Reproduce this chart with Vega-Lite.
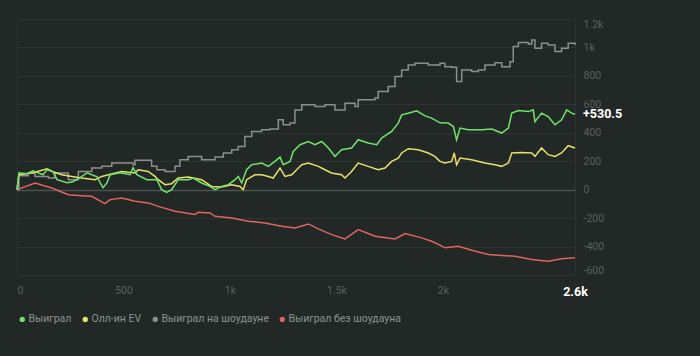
{
  "$schema": "https://vega.github.io/schema/vega-lite/v6.json",
  "width": 558,
  "height": 256,
  "autosize": {"type": "none"},
  "padding": {"left": 17, "top": 19, "right": 125, "bottom": 81},
  "background": "#222826",
  "config": {"view": {"stroke": "#2c3331"}, "font": "Roboto"},
  "datasets": {
    "red": [{"h":0,"v":0},{"h":85,"v":47},{"h":163,"v":12},{"h":241,"v":-35},{"h":304,"v":-42},{"h":351,"v":-47},{"h":413,"v":-98},{"h":437,"v":-70},{"h":492,"v":-58},{"h":554,"v":-82},{"h":616,"v":-93},{"h":671,"v":-121},{"h":742,"v":-152},{"h":836,"v":-175},{"h":850,"v":-159},{"h":906,"v":-164},{"h":930,"v":-187},{"h":1008,"v":-199},{"h":1086,"v":-222},{"h":1164,"v":-234},{"h":1243,"v":-258},{"h":1305,"v":-269},{"h":1368,"v":-241},{"h":1415,"v":-276},{"h":1478,"v":-316},{"h":1540,"v":-346},{"h":1602,"v":-281},{"h":1681,"v":-328},{"h":1775,"v":-346},{"h":1822,"v":-309},{"h":1900,"v":-339},{"h":1947,"v":-363},{"h":1986,"v":-390},{"h":2009,"v":-409},{"h":2072,"v":-398},{"h":2135,"v":-426},{"h":2213,"v":-456},{"h":2276,"v":-463},{"h":2338,"v":-468},{"h":2417,"v":-491},{"h":2494,"v":-503},{"h":2557,"v":-486},{"h":2620,"v":-479}],
    "grey": [{"h":0,"v":0},{"h":9,"v":98},{"h":53,"v":117},{"h":85,"v":93},{"h":147,"v":82},{"h":178,"v":117},{"h":241,"v":70},{"h":288,"v":128},{"h":351,"v":152},{"h":398,"v":164},{"h":445,"v":187},{"h":507,"v":187},{"h":545,"v":175},{"h":554,"v":206},{"h":609,"v":206},{"h":632,"v":164},{"h":657,"v":140},{"h":695,"v":128},{"h":726,"v":128},{"h":742,"v":164},{"h":765,"v":211},{"h":804,"v":234},{"h":867,"v":211},{"h":930,"v":229},{"h":969,"v":258},{"h":1008,"v":281},{"h":1039,"v":304},{"h":1070,"v":374},{"h":1102,"v":409},{"h":1149,"v":421},{"h":1188,"v":426},{"h":1227,"v":491},{"h":1250,"v":456},{"h":1282,"v":468},{"h":1305,"v":561},{"h":1337,"v":597},{"h":1399,"v":585},{"h":1446,"v":597},{"h":1493,"v":561},{"h":1540,"v":608},{"h":1587,"v":585},{"h":1602,"v":632},{"h":1681,"v":644},{"h":1696,"v":690},{"h":1743,"v":725},{"h":1775,"v":795},{"h":1806,"v":842},{"h":1837,"v":877},{"h":1869,"v":889},{"h":1931,"v":877},{"h":1986,"v":889},{"h":2009,"v":865},{"h":2041,"v":861},{"h":2064,"v":760},{"h":2088,"v":842},{"h":2135,"v":830},{"h":2166,"v":842},{"h":2197,"v":877},{"h":2244,"v":893},{"h":2276,"v":865},{"h":2315,"v":900},{"h":2330,"v":1006},{"h":2354,"v":1034},{"h":2401,"v":1025},{"h":2417,"v":1053},{"h":2432,"v":994},{"h":2463,"v":1030},{"h":2494,"v":1018},{"h":2526,"v":971},{"h":2557,"v":994},{"h":2588,"v":1030},{"h":2620,"v":1018}],
    "yellow": [{"h":0,"v":0},{"h":9,"v":105},{"h":75,"v":119},{"h":141,"v":147},{"h":169,"v":126},{"h":210,"v":105},{"h":257,"v":93},{"h":304,"v":82},{"h":366,"v":70},{"h":398,"v":93},{"h":429,"v":105},{"h":492,"v":128},{"h":554,"v":117},{"h":569,"v":140},{"h":616,"v":128},{"h":648,"v":93},{"h":663,"v":70},{"h":695,"v":35},{"h":726,"v":42},{"h":757,"v":82},{"h":804,"v":89},{"h":867,"v":70},{"h":914,"v":23},{"h":961,"v":19},{"h":1008,"v":35},{"h":1047,"v":23},{"h":1062,"v":0},{"h":1078,"v":70},{"h":1117,"v":105},{"h":1149,"v":105},{"h":1180,"v":93},{"h":1203,"v":82},{"h":1235,"v":152},{"h":1258,"v":93},{"h":1290,"v":105},{"h":1313,"v":140},{"h":1337,"v":175},{"h":1368,"v":187},{"h":1415,"v":164},{"h":1446,"v":140},{"h":1477,"v":117},{"h":1524,"v":105},{"h":1540,"v":82},{"h":1571,"v":128},{"h":1602,"v":187},{"h":1649,"v":164},{"h":1696,"v":140},{"h":1728,"v":152},{"h":1759,"v":199},{"h":1790,"v":222},{"h":1806,"v":258},{"h":1837,"v":288},{"h":1884,"v":281},{"h":1931,"v":258},{"h":1962,"v":234},{"h":1986,"v":199},{"h":2009,"v":187},{"h":2041,"v":199},{"h":2053,"v":258},{"h":2064,"v":175},{"h":2080,"v":222},{"h":2135,"v":211},{"h":2197,"v":187},{"h":2244,"v":175},{"h":2276,"v":164},{"h":2307,"v":187},{"h":2323,"v":258},{"h":2370,"v":262},{"h":2417,"v":258},{"h":2432,"v":234},{"h":2463,"v":293},{"h":2494,"v":246},{"h":2526,"v":234},{"h":2557,"v":258},{"h":2588,"v":309},{"h":2620,"v":293}],
    "green": [{"h":0,"v":0},{"h":9,"v":119},{"h":47,"v":112},{"h":75,"v":133},{"h":122,"v":105},{"h":141,"v":140},{"h":169,"v":126},{"h":188,"v":70},{"h":235,"v":49},{"h":263,"v":56},{"h":296,"v":84},{"h":329,"v":119},{"h":376,"v":91},{"h":390,"v":49},{"h":404,"v":14},{"h":423,"v":49},{"h":437,"v":105},{"h":484,"v":119},{"h":531,"v":105},{"h":545,"v":154},{"h":563,"v":105},{"h":610,"v":70},{"h":657,"v":70},{"h":679,"v":0},{"h":703,"v":-19},{"h":726,"v":0},{"h":757,"v":70},{"h":804,"v":70},{"h":828,"v":82},{"h":867,"v":47},{"h":906,"v":23},{"h":930,"v":0},{"h":961,"v":23},{"h":992,"v":35},{"h":1024,"v":70},{"h":1039,"v":93},{"h":1055,"v":47},{"h":1078,"v":140},{"h":1102,"v":175},{"h":1149,"v":187},{"h":1180,"v":164},{"h":1211,"v":199},{"h":1235,"v":229},{"h":1250,"v":175},{"h":1282,"v":199},{"h":1297,"v":269},{"h":1329,"v":316},{"h":1368,"v":339},{"h":1399,"v":316},{"h":1431,"v":339},{"h":1462,"v":293},{"h":1493,"v":234},{"h":1524,"v":281},{"h":1571,"v":293},{"h":1602,"v":351},{"h":1649,"v":328},{"h":1689,"v":316},{"h":1712,"v":363},{"h":1759,"v":409},{"h":1790,"v":468},{"h":1806,"v":526},{"h":1837,"v":538},{"h":1877,"v":554},{"h":1916,"v":519},{"h":1947,"v":503},{"h":1986,"v":470},{"h":2025,"v":468},{"h":2049,"v":444},{"h":2064,"v":351},{"h":2080,"v":433},{"h":2119,"v":421},{"h":2182,"v":421},{"h":2229,"v":426},{"h":2276,"v":398},{"h":2307,"v":433},{"h":2323,"v":538},{"h":2354,"v":557},{"h":2401,"v":549},{"h":2424,"v":561},{"h":2432,"v":479},{"h":2463,"v":538},{"h":2494,"v":514},{"h":2526,"v":456},{"h":2557,"v":491},{"h":2581,"v":561},{"h":2604,"v":538},{"h":2620,"v":530.5}],
    "endlabel": [{"h":2620,"v":530.5,"t":"+530.5"}]
  },
  "encoding": {
    "x": {"field": "h", "type": "quantitative", "title": null,
      "scale": {"domain": [0, 2620], "nice": false, "zero": false},
      "axis": {"values": [0, 500, 1000, 1500, 2000, 2620], "grid": false, "ticks": false, "domain": false,
        "labelExpr": "datum.value >= 1000 ? format(datum.value/1000, '.1~f') + 'k' : '' + datum.value",
        "labelColor": {"condition": {"test": "datum.value == 2620", "value": "#ffffff"}, "value": "#5a605e"},
        "labelFontWeight": {"condition": {"test": "datum.value == 2620", "value": "bold"}, "value": "normal"},
        "labelFontSize": {"condition": {"test": "datum.value == 2620", "value": 12.5}, "value": 10.5},
        "labelAlign": {"condition": {"test": "datum.value == 0", "value": "left"}, "value": "center"},
        "labelFlush": false, "labelOverlap": false, "labelPadding": 10}},
    "y": {"field": "v", "type": "quantitative", "title": null,
      "scale": {"domain": [-600, 1200], "nice": false, "zero": false},
      "axis": {"orient": "right", "values": [-600, -400, -200, 0, 200, 400, 600, 800, 1000, 1200],
        "ticks": false, "domain": false, "grid": true,
        "gridColor": {"condition": {"test": "datum.value == 0", "value": "#4b5250"}, "value": "#2d3432"},
        "gridWidth": {"condition": {"test": "datum.value == 0", "value": 1.5}, "value": 1},
        "labelExpr": "abs(datum.value) >= 1000 ? format(datum.value/1000, '.1~f') + 'k' : '' + datum.value",
        "labelColor": "#5a605e", "labelFontSize": 10.5, "labelPadding": 8, "labelFlush": true, "labelOverlap": false}}
  },
  "layer": [
    {
      "data": {"name": "red"},
      "mark": {"type": "line", "strokeWidth": 1.5},
      "encoding": {
        "color": {"datum": "Выиграл без шоудауна", "type": "nominal",
          "scale": {"domain": ["Выиграл", "Олл-ин EV", "Выиграл на шоудауне", "Выиграл без шоудауна"],
                    "range": ["#72e26c", "#e6e16c", "#8e8e8e", "#de6560"]},
          "legend": {"orient": "bottom", "direction": "horizontal", "title": null, "symbolType": "circle",
            "symbolSize": 8, "symbolStrokeWidth": 2.5, "labelColor": "#8c9290", "labelFontSize": 10.5,
            "columnPadding": 6, "labelOffset": 1, "offset": 16, "padding": 0}}
      }
    },
    {
      "data": {"name": "grey"},
      "mark": {"type": "line", "strokeWidth": 1.5, "interpolate": "step-after"},
      "encoding": {"color": {"datum": "Выиграл на шоудауне", "type": "nominal"}}
    },
    {
      "data": {"name": "yellow"},
      "mark": {"type": "line", "strokeWidth": 1.5},
      "encoding": {"color": {"datum": "Олл-ин EV", "type": "nominal"}}
    },
    {
      "data": {"name": "green"},
      "mark": {"type": "line", "strokeWidth": 1.5},
      "encoding": {"color": {"datum": "Выиграл", "type": "nominal"}}
    },
    {
      "data": {"name": "endlabel"},
      "mark": {"type": "text", "align": "left", "baseline": "middle", "dx": 8, "fontWeight": "bold", "fontSize": 12.5, "color": "#ffffff"},
      "encoding": {"text": {"field": "t"}}
    }
  ]
}
